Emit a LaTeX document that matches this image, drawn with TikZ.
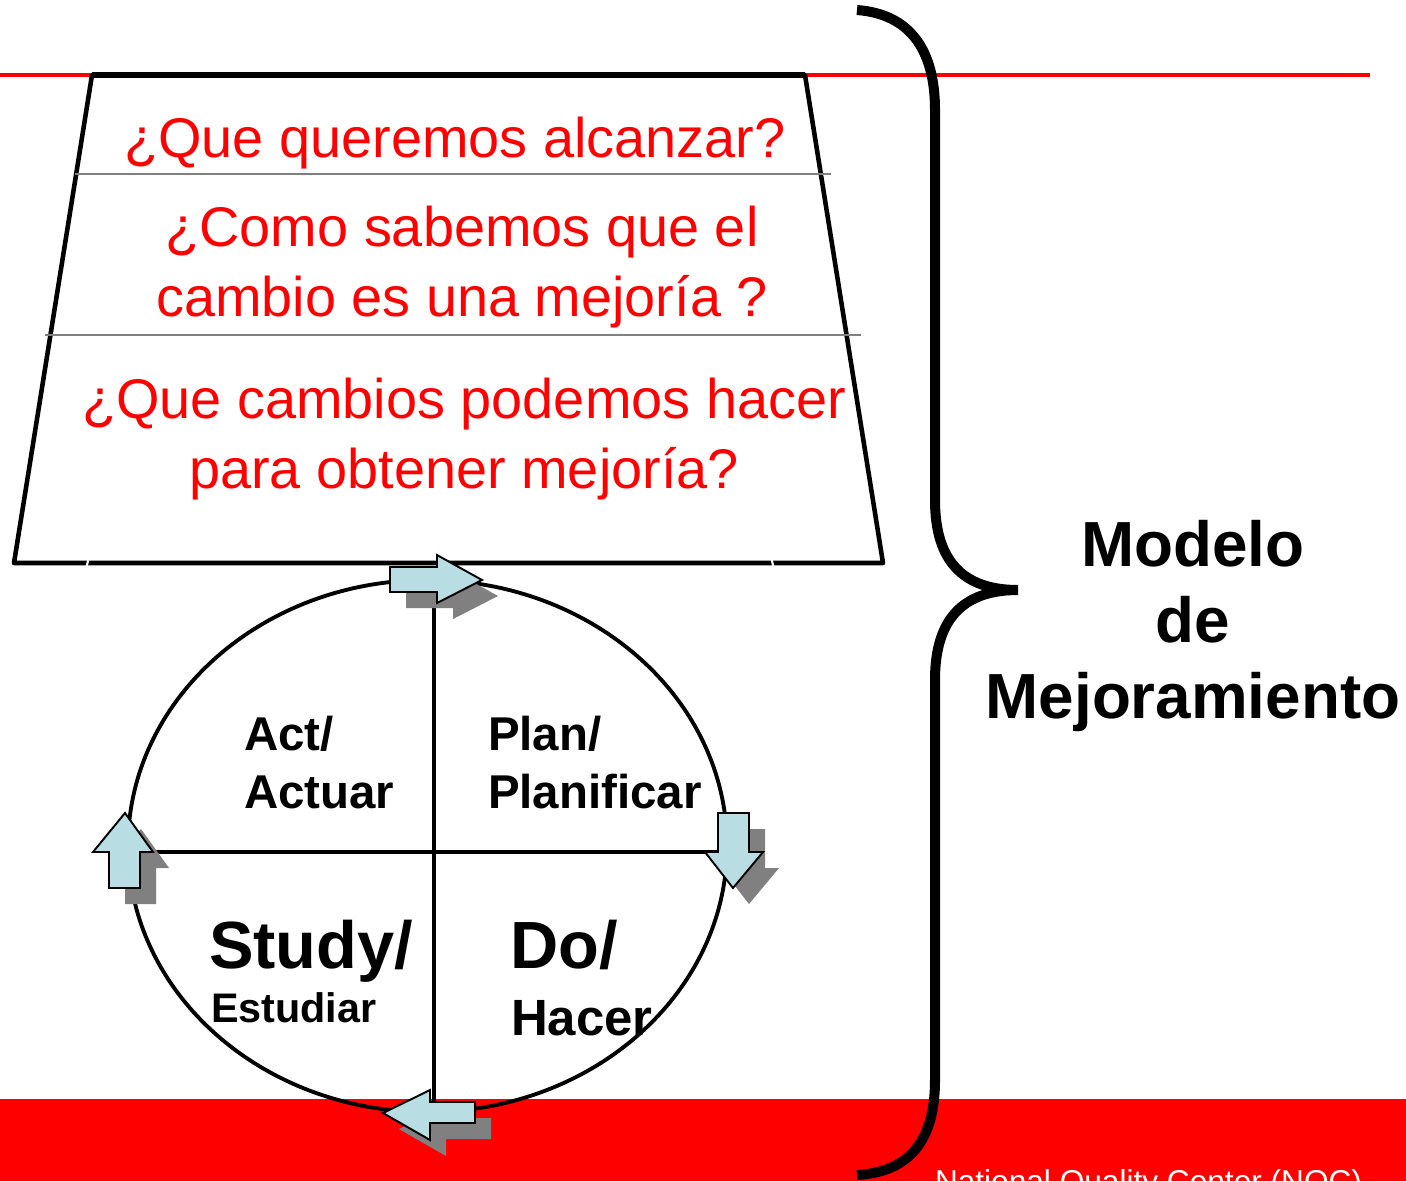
\documentclass[tikz,border=0pt]{standalone}
\usepackage{fontspec}
\setmainfont{Liberation Sans}
\usepackage{tikz}
\definecolor{slidered}{RGB}{255,0,0}
\definecolor{arrowblue}{RGB}{184,222,228}
\definecolor{shadowgray}{RGB}{128,128,128}
\newcommand{\questionfont}{\fontsize{31.8pt}{39.5pt}\selectfont}
\newcommand{\stepfont}{\fontsize{27pt}{32pt}\selectfont\bfseries}
\newcommand{\cyclearrow}[1]{%
  \fill[shadowgray,shift={(16,16)}] #1 -- cycle;
  \filldraw[fill=arrowblue,draw=black,line width=1.1pt,line join=miter] #1 -- cycle;}

\begin{document}
\begin{tikzpicture}[x=0.02cm,y=-0.02cm,inner sep=0pt,outer sep=0pt]
\useasboundingbox (0,0) rectangle (1406,1181);
\clip (0,0) rectangle (1406,1181);
\fill[white] (0,0) rectangle (1406,1181);
\fill[slidered] (0,1099) rectangle (1406,1181);
\draw[slidered,line width=2.8pt] (0,75) -- (1370,75);
\draw[line width=2.6pt,line join=round] (92,75) -- (805,75) -- (883,563) -- (14,563) -- cycle;
\draw[line width=3.4pt] (92,75) -- (805,75);
\draw[white,line width=1.2pt] (89,557) -- (86,569);
\draw[white,line width=1.2pt] (771,557) -- (774,569);
\draw[shadowgray,line width=1.2pt] (75,174) -- (831,174);
\draw[shadowgray,line width=1.2pt] (45,335) -- (861,335);
\node at (455,157) [anchor=base,slidered,font=\questionfont] (Q1) {¿Que queremos alcanzar?};
\node at (462,267) [align=center,slidered,font=\questionfont] (Q2) {¿Como sabemos que el\\cambio es una mejoría ?};
\node at (464,439) [align=center,slidered,font=\questionfont] (Q3) {¿Que cambios podemos hacer\\para obtener mejoría?};
\draw[line width=2.2pt] (427.5,846) ellipse [x radius=299.5,y radius=266];
\draw[line width=2.2pt] (434,583) -- (434,1112);
\draw[line width=2.2pt] (128,852) -- (727,852);
\node at (244,750) [anchor=base west,font=\stepfont] (Act) {Act/};
\node at (244,808) [anchor=base west,font=\stepfont] (Actuar) {Actuar};
\node at (488,750) [anchor=base west,font=\stepfont] (Plan) {Plan/};
\node at (488,808) [anchor=base west,font=\stepfont] (Planificar) {Planificar};
\node at (209,968) [anchor=base west,font=\fontsize{38pt}{44pt}\selectfont\bfseries] (Study) {Study/};
\node at (211,1022) [anchor=base west,font=\fontsize{23.5pt}{28pt}\selectfont\bfseries] (Estudiar) {Estudiar};
\node at (510,968) [anchor=base west,font=\fontsize{38pt}{44pt}\selectfont\bfseries] (Do) {Do/};
\node at (511,1035) [anchor=base west,font=\fontsize{29pt}{34pt}\selectfont\bfseries] (Hacer) {Hacer};
\cyclearrow{(390,567) -- (437,567) -- (437,555) -- (482,580) -- (437,603) -- (437,592) -- (390,592)}
\cyclearrow{(718,813) -- (749,813) -- (749,852) -- (763,852) -- (733,888) -- (705,852) -- (718,852)}
\cyclearrow{(475,1102) -- (430,1102) -- (430,1090) -- (383,1113) -- (430,1140) -- (430,1123) -- (475,1123)}
\cyclearrow{(109,888) -- (109,852) -- (93,852) -- (125,813) -- (153,852) -- (140,852) -- (140,888)}
\draw[line width=5.7pt] (857,10) .. controls (910,14) and (935,50) .. (935,110) -- (935,500)
  .. controls (935,560) and (962,590) .. (1018,590)
  .. controls (962,590) and (935,620) .. (935,680) -- (935,1080)
  .. controls (935,1140) and (910,1172) .. (857,1175);
\node at (1193,626) [align=center,font=\fontsize{36.3pt}{43pt}\selectfont\bfseries] (Model) {Modelo\\de\\Mejoramiento};
\node at (935,1192) [anchor=base west,white,font=\fontsize{18pt}{22pt}\selectfont] (Footer) {National Quality Center (NQC)};
\end{tikzpicture}
\end{document}
